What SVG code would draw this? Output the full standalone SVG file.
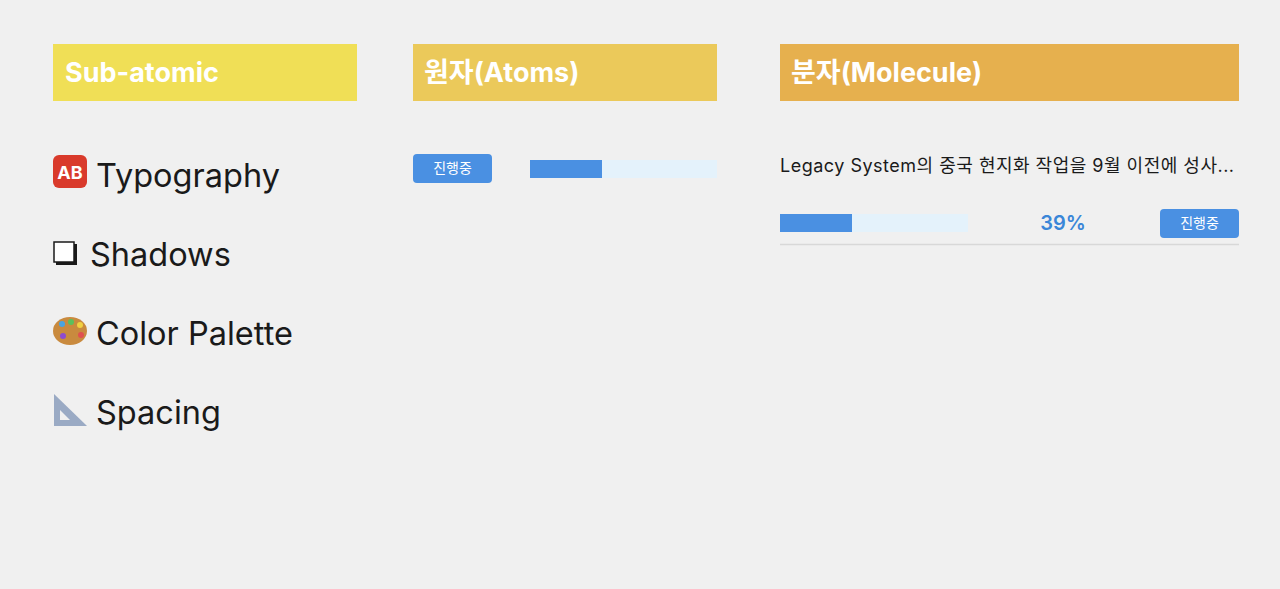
<svg xmlns="http://www.w3.org/2000/svg" width="1280" height="589" viewBox="0 0 1280 589">
<style>
text{font-family:"Inter","Liberation Sans","Noto Sans CJK KR",sans-serif}
.h{fill:#fff;font-size:27px;font-weight:bold}
.item{fill:#1a1a1a;font-size:32.5px}
.btn{fill:#4a90e2}
.bt{fill:#fff;font-size:14px;text-anchor:middle}
.track{fill:#e4f2fb}
.fill{fill:#4a90e2}
</style>
<rect width="1280" height="589" fill="#f0f0f0"/>
<g id="sub-atomic">
<rect x="53" y="44" width="304" height="57" fill="#f0df56"/>
<text class="h" x="65" y="82">Sub-atomic</text>
</g>
<g id="atoms">
<rect x="413" y="44" width="304" height="57" fill="#ebc95a"/>
<text class="h" x="424" y="82">원자(Atoms)</text>
</g>
<g id="molecule">
<rect x="780" y="44" width="459" height="57" fill="#e6b04e"/>
<text class="h" x="791" y="82">분자(Molecule)</text>
</g>
<g id="typography">
<rect x="53" y="155" width="34" height="33" rx="6" fill="#d93a2b"/>
<text x="70" y="179" fill="#fff" font-size="18" font-weight="bold" text-anchor="middle">AB</text>
<text class="item" x="96" y="187">Typography</text>
</g>
<g id="shadows">
<rect x="56" y="244" width="21" height="21" fill="#1a1a1a"/>
<rect x="54" y="242" width="20" height="20" fill="#fff" stroke="#1a1a1a" stroke-width="1.5"/>
<text class="item" x="90" y="266">Shadows</text>
</g>
<g id="color-palette">
<ellipse cx="70" cy="331" rx="17" ry="14" fill="#c98a3e"/>
<circle cx="62" cy="324" r="3" fill="#4aa3e0"/>
<circle cx="71" cy="322" r="3" fill="#5cc05c"/>
<circle cx="80" cy="325" r="3" fill="#f0d040"/>
<circle cx="63" cy="336" r="3" fill="#8e4bd0"/>
<circle cx="81" cy="335" r="3" fill="#e05050"/>
<text class="item" x="96" y="345">Color Palette</text>
</g>
<g id="spacing">
<polygon points="54,394 54,426 87,426" fill="#9aaac4"/>
<polygon points="60,410 60,420 70,420" fill="#f0f0f0"/>
<text class="item" x="96" y="424">Spacing</text>
</g>
<g id="atom-button">
<rect class="btn" x="413" y="154" width="79" height="29" rx="4"/>
<text class="bt" x="452.5" y="173">진행중</text>
</g>
<g id="atom-progress">
<rect class="track" x="530" y="160" width="187" height="18"/>
<rect class="fill" x="530" y="160" width="72" height="18"/>
</g>
<g id="molecule-card">
<text x="780" y="172" fill="#1a1a1a" font-size="18" textLength="454">Legacy System의 중국 현지화 작업을 9월 이전에 성사...</text>
<rect class="track" x="780" y="214" width="188" height="18"/>
<rect class="fill" x="780" y="214" width="72" height="18"/>
<text x="1063" y="230" fill="#3a86d8" font-size="20" font-weight="600" text-anchor="middle">39%</text>
<rect class="btn" x="1160" y="209" width="79" height="29" rx="4"/>
<text class="bt" x="1199.5" y="228">진행중</text>
<line x1="780" y1="244.5" x2="1239" y2="244.5" stroke="#d8d8d8" stroke-width="1.5"/>
</g>
<g id="connectors"/>
</svg>
